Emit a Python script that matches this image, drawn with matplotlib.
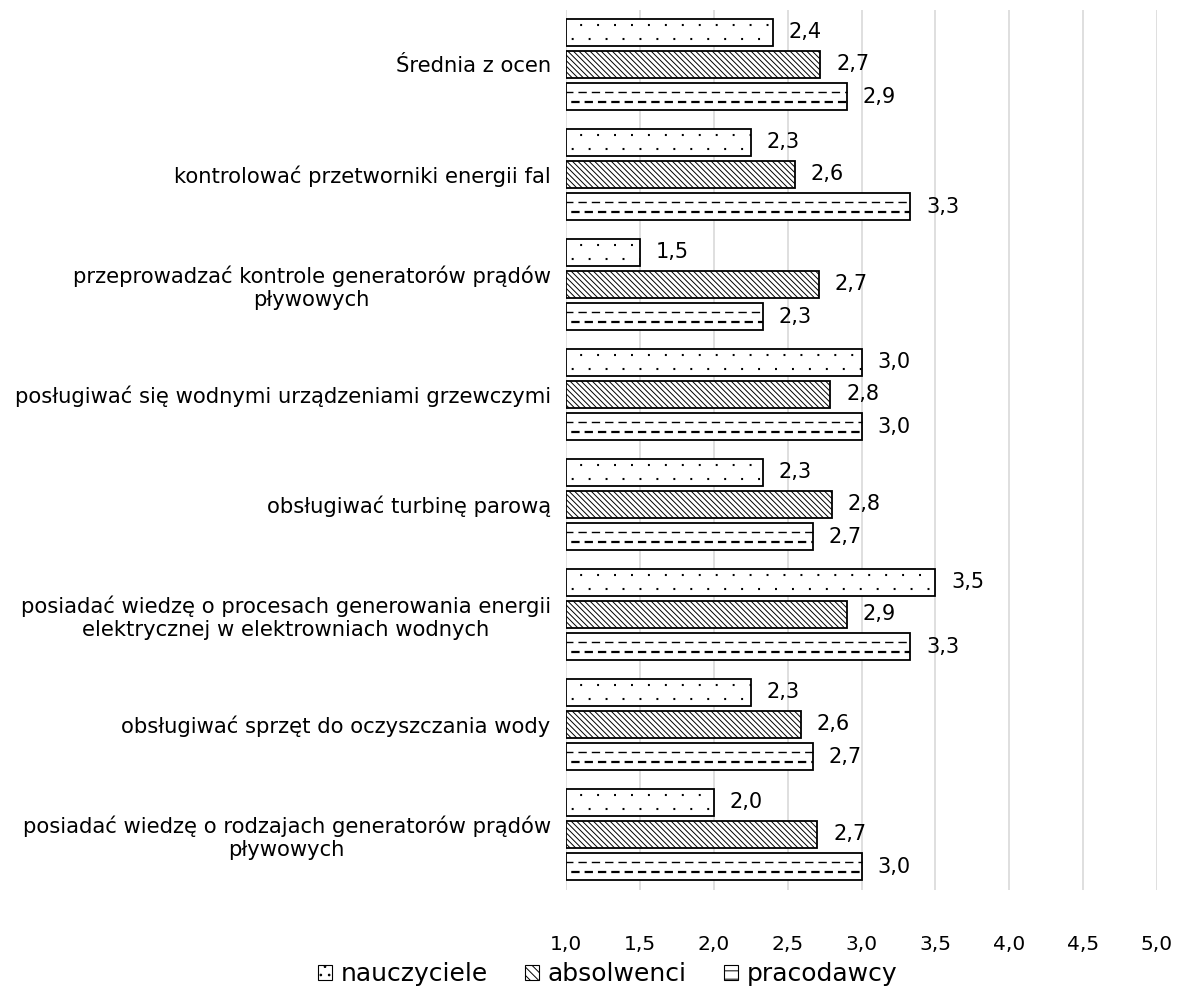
import matplotlib
matplotlib.use("Agg")
import matplotlib.pyplot as plt
from matplotlib.patches import Patch
from decimal import Decimal, ROUND_HALF_UP

plt.rcParams['font.family'] = ['DejaVu Sans']
plt.rcParams['hatch.linewidth'] = 0.7
plt.rcParams['lines.scale_dashes'] = False

categories = [
    "Średnia z ocen",
    "kontrolować przetworniki energii fal",
    "przeprowadzać kontrole generatorów prądów\npływowych",
    "posługiwać się wodnymi urządzeniami grzewczymi",
    "obsługiwać turbinę parową",
    "posiadać wiedzę o procesach generowania energii\nelektrycznej w elektrowniach wodnych",
    "obsługiwać sprzęt do oczyszczania wody",
    "posiadać wiedzę o rodzajach generatorów prądów\npływowych",
]
nauczyciele = [2.40, 2.25, 1.50, 3.00, 2.33, 3.50, 2.25, 2.00]
absolwenci = [2.72, 2.55, 2.71, 2.79, 2.80, 2.90, 2.59, 2.70]
pracodawcy = [2.90, 3.33, 2.33, 3.00, 2.67, 3.33, 2.67, 3.00]
series_names = ["nauczyciele", "absolwenci", "pracodawcy"]
xticks = [1.0, 1.5, 2.0, 2.5, 3.0, 3.5, 4.0, 4.5, 5.0]


def fmt(v):
    return str(Decimal(str(v)).quantize(Decimal("0.1"), rounding=ROUND_HALF_UP)).replace(".", ",")


fig = plt.figure(figsize=(11.8, 9.92), dpi=100)
ax = fig.add_axes([566 / 1180, 1 - 889.5 / 992, (1157 - 566) / 1180, 880 / 992])

n = len(categories)
ypos = list(range(n))
offset = 0.295
h = 0.245
base = 1.0

series = [nauczyciele, absolwenci, pracodawcy]
hatches = [None, '\\\\\\\\\\\\', None]
for si, (vals, hatch) in enumerate(zip(series, hatches)):
    ys = [y + (si - 1) * offset for y in ypos]
    widths = [v - base for v in vals]
    ax.barh(ys, widths, left=base, height=h, color='white', edgecolor='black',
            linewidth=1.3, hatch=hatch, zorder=3)
    for y, v in zip(ys, vals):
        if si == 0:
            ax.plot([base, v], [y - h * 0.25, y - h * 0.25], color='black', lw=1.5,
                    linestyle=(2.0, (1.4, 10.8)), dash_capstyle='butt', zorder=4)
            ax.plot([base, v], [y + h * 0.25, y + h * 0.25], color='black', lw=1.5,
                    linestyle=(8.1, (1.4, 10.8)), dash_capstyle='butt', zorder=4)
        elif si == 2:
            ax.plot([base, v], [y - h * 0.19, y - h * 0.19], color='black', lw=1.0,
                    linestyle=(1.0, (6, 3.6)), dash_capstyle='butt', zorder=4)
            ax.plot([base, v], [y + h * 0.19, y + h * 0.19], color='black', lw=1.6,
                    linestyle=(5.8, (6, 3.6)), dash_capstyle='butt', zorder=4)
        ax.text(v + 0.108, y, fmt(v), va='center', ha='left', fontsize=15, zorder=5)

ax.set_xlim(1.0, 5.0)
ax.set_ylim(n - 0.5, -0.5)
ax.set_xticks(xticks)
ax.set_xticklabels([fmt(t) for t in xticks], fontsize=14.5)
ax.set_yticks(ypos)
ax.set_yticklabels(categories, fontsize=15.2, multialignment='center')
ax.tick_params(axis='both', length=0)
ax.tick_params(axis='x', pad=33)
ax.tick_params(axis='y', pad=11)
ax.grid(axis='x', color='#d9d9d9', linewidth=1.2, zorder=0)
ax.set_axisbelow(True)
for s in ax.spines.values():
    s.set_visible(False)

handles = [
    Patch(facecolor='white', edgecolor='black', hatch='..', linewidth=0.8),
    Patch(facecolor='white', edgecolor='black', hatch='\\\\\\\\', linewidth=0.8),
    Patch(facecolor='white', edgecolor='black', hatch='--', linewidth=0.8),
]
fig.legend(handles, series_names, loc='center', bbox_to_anchor=(0.515, 1 - 974 / 992),
           ncol=3, frameon=False, fontsize=18, handlelength=0.56, handleheight=0.56,
           handletextpad=0.35, columnspacing=1.5, borderpad=0.1)

fig.savefig("out.png", dpi=100)
